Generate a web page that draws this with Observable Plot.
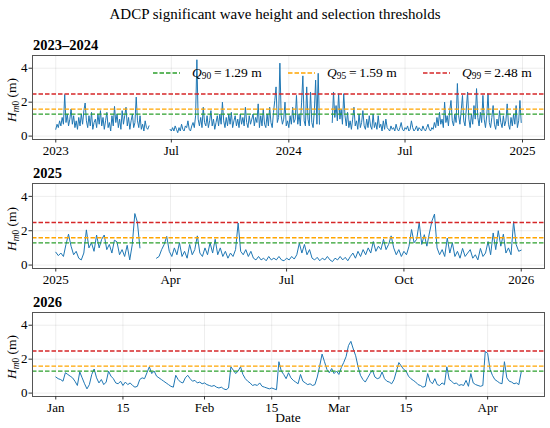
<!DOCTYPE html>
<html><head><meta charset="utf-8">
<script src="https://cdn.jsdelivr.net/npm/d3@7"></script>
<script src="https://cdn.jsdelivr.net/npm/@observablehq/plot@0.6"></script>
<style>
body{margin:0;background:#fff;}
#fig{position:relative;width:550px;height:428px;font-family:"Liberation Serif",serif;color:#000;overflow:hidden;background:#fff}
#fig svg, #fig svg text{font-family:"Liberation Serif",serif !important;}
.abs{position:absolute;white-space:nowrap;line-height:1}
.abs svg{display:block}
.plot{position:absolute;left:0}
sub{font-size:70%;vertical-align:-0.25em;line-height:0}
.leg{position:absolute;white-space:nowrap;line-height:1;font-size:13.5px}
.ylab{position:absolute;white-space:nowrap;line-height:1;font-size:13.5px;transform:translate(-50%,-50%) rotate(-90deg)}
</style></head><body><div id="fig"></div>
<script>
// ---------- data ----------
const qNames = ["90", "95", "99"];
const qValues = [1.29, 1.59, 2.48];

// Panel 1 (2023–2024), 2-day samples
const p1aStart = "2023-01-01";
const p1a = [0.4,0.7,0.5,0.9,0.6,1.1,0.7,2.45,0.8,1.3,0.6,1.0,1.6,0.7,1.2,0.5,0.9,0.4,1.1,0.6,1.3,0.7,1.5,1.95,0.9,0.5,1.2,0.6,1.4,0.4,0.8,1.0,0.5,1.3,0.7,1.5,0.6,1.1,0.4,0.9,1.4,0.5,0.8,0.3,1.2,0.6,1.75,0.8,1.3,0.5,1.0,0.4,1.5,0.7,1.2,1.7,0.6,1.1,0.4,0.9,1.3,0.5,0.8,2.3,0.9,0.5,1.2,0.4,0.7,0.3,0.9,0.5,0.4,0.6];
const p1bStart = "2023-06-29";
const p1b = [0.4,0.3,0.5,0.3,0.6,0.4,0.2,0.5,0.3,0.7,0.4,0.3,0.6,0.5,0.9,0.4,0.3,0.6,0.8,0.5,
1.2,4.5,1.0,
0.6,1.1,0.5,1.7,0.8,0.6,1.2,0.5,0.9,1.5,0.6,1.0,0.4,0.8,1.2,
0.6,1.3,0.7,2.0,0.9,0.5,1.1,0.6,1.3,0.7,1.4,0.5,0.9,1.2,0.6,
1.0,0.5,1.3,0.7,1.1,0.6,1.7,0.8,0.5,1.2,0.7,1.0,1.3,0.6,1.1,
0.8,1.9,0.5,1.2,0.6,1.6,0.7,0.5,1.3,0.6,1.7,0.8,0.5,1.4,2.1,
2.9,0.8,1.1,4.3,1.2,0.7,1.0,2.0,0.6,0.9,0.5,1.2,0.7,1.7,0.8,1.0,2.4,0.7,1.3,0.6,2.0,3.55,0.9,0.6,2.9,1.0,0.6,2.6,0.8,0.5,1.5,3.3,0.7,3.7,
0.7];
const p1cStart = "2024-03-09";
const p1c = [0.8,2.6,1.1,1.8,0.9,2.5,1.0,1.6,0.7,2.5,1.2,0.6,1.4,0.5,0.9,0.4,1.0,1.7,0.6,0.9,0.4,1.3,0.5,0.8,1.5,0.6,0.4,1.0,0.5,1.2,0.6,0.4,1.3,0.5,0.8,0.4,1.2,0.5,0.7,0.3,0.9,0.4,1.0,0.5,
0.4,0.3,0.6,0.4,0.5,0.3,0.7,0.4,0.3,0.5,0.8,0.4,0.3,0.5,0.4,0.6,0.3,0.4,0.9,0.5,0.3,0.4,0.6,0.3,0.5,0.4,0.3,0.6,0.4,0.3,0.5,0.7,0.4,0.3,0.5,
0.4,0.8,0.5,1.1,0.6,1.4,0.7,1.0,0.5,
2.0,0.8,1.2,0.6,1.5,2.1,0.9,0.6,1.3,0.8,3.1,1.2,0.7,1.5,2.4,0.9,0.6,1.6,2.6,1.0,0.5,1.3,0.7,1.8,1.0,2.8,1.1,0.6,1.4,0.8,2.4,1.0,0.5,1.2,2.5,0.8,0.5,1.1,1.8,0.7,0.4,1.0,0.6,1.5,0.8,0.5,1.2,0.6,0.9,1.9,0.7,0.4,1.1,0.6,1.3,0.7,1.8,0.5,0.9,2.1,0.8];

// Panel 2 (2025), 2-day samples
const p2aStart = "2025-01-01";
const p2a = [0.75,0.55,0.7,0.5,1.2,1.8,1.1,0.6,0.8,0.4,0.3,0.7,2.05,1.0,1.3,0.8,1.75,1.0,1.5,1.75,0.9,1.2,0.7,1.45,1.35,0.6,0.9,0.5,1.15,0.3,1.2,3.0,2.5,1.0];
const p2bStart = "2025-03-21";
const p2b = [0.4,0.5,0.9,1.2,1.67,0.8,0.5,1.0,0.6,1.3,0.5,0.8,0.4,
1.2,0.6,0.9,1.7,0.7,0.5,1.0,0.6,1.3,0.7,1.5,0.6,1.0,0.5,0.8,0.4,0.7,0.5,0.9,2.45,0.8,0.6,0.9,0.5,0.8,0.4,0.3,0.5,0.3,0.4,0.25,0.5,0.3,0.4,0.3,0.5,0.3,0.25,0.4,0.3,0.5,0.35,0.6,1.27,0.7,1.2,0.6,0.9,0.4,0.3,0.45,0.25,0.4,0.3,0.5,0.3,0.2,0.4,0.3,0.5,0.3,0.45,0.25,0.5,0.7,0.4,0.8,0.5,0.9,0.6,1.0,0.7,1.37,0.8,1.1,0.9,1.5,0.9,1.2,1.7,1.0,0.6,0.9,0.5,0.8,0.6,1.1,2.07,1.3,1.5,2.47,1.2,1.77,1.1,1.87,2.57,2.97,1.0,0.6,0.9,0.5,1.57,0.7,1.3,0.5,0.8,0.4,0.97,0.5,0.7,0.9,0.4,0.6,0.3,0.97,0.5,0.7,1.37,0.6,1.87,0.9,2.0,1.1,1.8,0.7,1.0,0.6,2.53,1.2,0.8,0.87];

// Panel 3 (2026), half-day samples
const p3Start = "2026-01-01";
const p3 = [0.95,0.85,0.8,0.7,1.2,1.1,1.0,0.9,0.7,0.45,1.25,0.9,0.55,0.25,0.5,1.1,1.42,0.9,0.6,0.8,
0.5,0.65,1.29,1.0,0.85,0.6,0.55,0.7,0.45,0.65,0.5,0.6,0.45,0.35,0.4,0.8,0.9,0.85,1.2,1.55,
1.15,1.3,1.0,0.9,0.8,0.7,0.6,0.5,0.4,0.35,1.05,0.8,0.65,0.6,0.9,1.05,0.85,0.7,0.75,0.6,
0.65,0.55,0.6,0.5,0.45,0.4,0.45,0.35,0.3,0.35,0.25,0.2,0.3,1.55,1.35,1.15,1.3,1.55,1.1,0.85,
0.7,0.6,0.45,0.5,0.45,0.6,0.4,0.35,0.3,0.25,0.3,0.25,0.2,1.85,1.3,1.1,0.85,1.2,0.9,0.75,
0.65,0.55,1.1,0.7,0.6,0.5,0.55,0.45,0.5,0.95,1.6,2.3,1.85,1.4,1.2,1.45,1.15,1.3,1.1,1.5,
1.8,2.15,2.8,3.05,2.6,2.2,1.55,1.05,0.8,0.65,0.9,1.15,1.35,0.95,0.85,0.9,1.25,0.85,0.7,0.65,
0.55,0.8,1.3,1.8,1.6,1.4,1.3,1.0,0.85,0.75,0.65,0.5,0.45,0.35,0.4,1.15,0.7,0.55,0.85,0.5,
0.45,0.6,0.5,1.55,0.8,0.7,0.55,0.6,0.45,0.5,0.45,0.75,0.4,1.15,0.6,0.5,0.45,0.4,0.45,2.45,
2.35,1.4,1.05,0.8,0.7,0.6,0.55,1.85,0.9,0.7,0.65,0.55,0.6,0.5,1.25];

// tick values / labels
const p1Ticks = ["2023-01-01","2023-07-01","2024-01-01","2024-07-01","2025-01-01"];
const p1Labels = ["2023","Jul","2024","Jul","2025"];
const p2Ticks = ["2025-01-01","2025-04-01","2025-07-01","2025-10-01","2026-01-01"];
const p2Labels = ["2025","Apr","Jul","Oct","2026"];
const p3Ticks = ["2026-01-01","2026-01-15","2026-02-01","2026-02-15","2026-03-01","2026-03-15","2026-04-01"];
const p3Labels = ["Jan","15","Feb","15","Mar","15","Apr"];
const yTicks = [0, 2, 4];
const panelTitles = ["2023–2024", "2025", "2026"];

// ---------- build ----------
const qColors = ["#2ca02c", "#ffa500", "#d62728"];
const lineColor = "#1f77b4";
const FONT = "Liberation Serif, serif";
const DAY = 864e5;
const toDate = s => new Date(s + "T00:00:00Z");
function series(start, stepDays, values, seg) {
  const t0 = toDate(start).getTime();
  return values.map((v, i) => ({date: new Date(t0 + i * stepDays * DAY), v, seg}));
}
const fig = document.getElementById("fig");
function addDiv(cls, html, style) {
  const d = document.createElement("div");
  d.className = cls; d.innerHTML = html;
  Object.assign(d.style, style);
  fig.appendChild(d); return d;
}

function panel(data, tickStrs, labels, top, frameH) {
  const ext = d3.extent(data, d => d.date);
  const pad = 0.05 * (ext[1] - ext[0]);
  const xdom = [new Date(+ext[0] - pad), new Date(+ext[1] + pad)];
  const ticks = tickStrs.map(toDate);
  const lab = new Map(ticks.map((t, i) => [+t, labels[i]]));
  const mt = 2, mb = 20;
  const chart = Plot.plot({
    width: 550, height: mt + frameH + mb,
    marginLeft: 32, marginRight: 6, marginTop: mt, marginBottom: mb,
    style: {fontFamily: FONT, fontSize: "13px", background: "transparent", color: "#000", overflow: "visible"},
    x: {type: "utc", domain: xdom},
    y: {domain: [-0.2, 4.75]},
    marks: [
      Plot.gridX(ticks, {stroke: "#000", strokeOpacity: 0.09, strokeWidth: 0.8}),
      Plot.gridY(yTicks, {stroke: "#000", strokeOpacity: 0.09, strokeWidth: 0.8}),
      Plot.line(data, {x: "date", y: "v", z: "seg", stroke: lineColor, strokeWidth: 1}),
      ...qValues.map((q, i) => Plot.ruleY([q], {stroke: qColors[i], strokeWidth: 1.3, strokeDasharray: "4.5,2"})),
      Plot.frame({stroke: "#555", strokeWidth: 1}),
      Plot.axisX(ticks, {tickFormat: d => lab.get(+d), tickSize: 3.5, tickPadding: 2.5, stroke: "#333", fontSize: 13, label: null}),
      Plot.axisY(yTicks, {tickSize: 3.5, tickPadding: 1.5, stroke: "#333", fontSize: 13, label: null})
    ]
  });
  chart.classList.add("plot");
  chart.style.top = top + "px";
  fig.appendChild(chart);
  addDiv("ylab", '<i>H</i><sub><i>m</i>0</sub> (m)', {left: "12px", top: (top + mt + frameH / 2 + 3) + "px"});
}

// title
addDiv("abs", "ADCP significant wave height and selection thresholds",
  {left: "0", width: "550px", textAlign: "center", top: "7px", fontSize: "15px"});

const d1 = [...series(p1aStart, 2, p1a, 0), ...series(p1bStart, 2, p1b, 1), ...series(p1cStart, 2, p1c, 2)];
const d2 = [...series(p2aStart, 2, p2a, 0), ...series(p2bStart, 2, p2b, 1)];
const d3s = series(p3Start, 0.5, p3, 0);

panel(d1, p1Ticks, p1Labels, 53, 84);
panel(d2, p2Ticks, p2Labels, 181, 85);
panel(d3s, p3Ticks, p3Labels, 310, 84);

// panel titles
[[panelTitles[0], 38], [panelTitles[1], 166], [panelTitles[2], 295]].forEach(([t, y]) =>
  addDiv("abs", t, {left: "33px", top: y + "px", fontSize: "14.5px", fontWeight: "bold"}));

// x label
addDiv("abs", "Date", {left: "288px", top: "411px", fontSize: "13.5px", transform: "translateX(-50%)"});

// legend (panel 1)
const legX = [[153, 192], [288, 327], [423, 462]];
qNames.forEach((n, i) => {
  const [sx, tx] = legX[i];
  addDiv("abs", `<svg width="27" height="4"><line x1="0" y1="2" x2="27" y2="2" stroke="${qColors[i]}" stroke-width="1.4" stroke-dasharray="4.5,2"/></svg>`,
    {left: sx + "px", top: "70.7px"});
  addDiv("leg", `<i>Q</i><sub>${n}</sub>&#8201;=&#8201;${qValues[i].toFixed(2)} m`, {left: tx + "px", top: "66px"});
});
</script>
</body></html>
